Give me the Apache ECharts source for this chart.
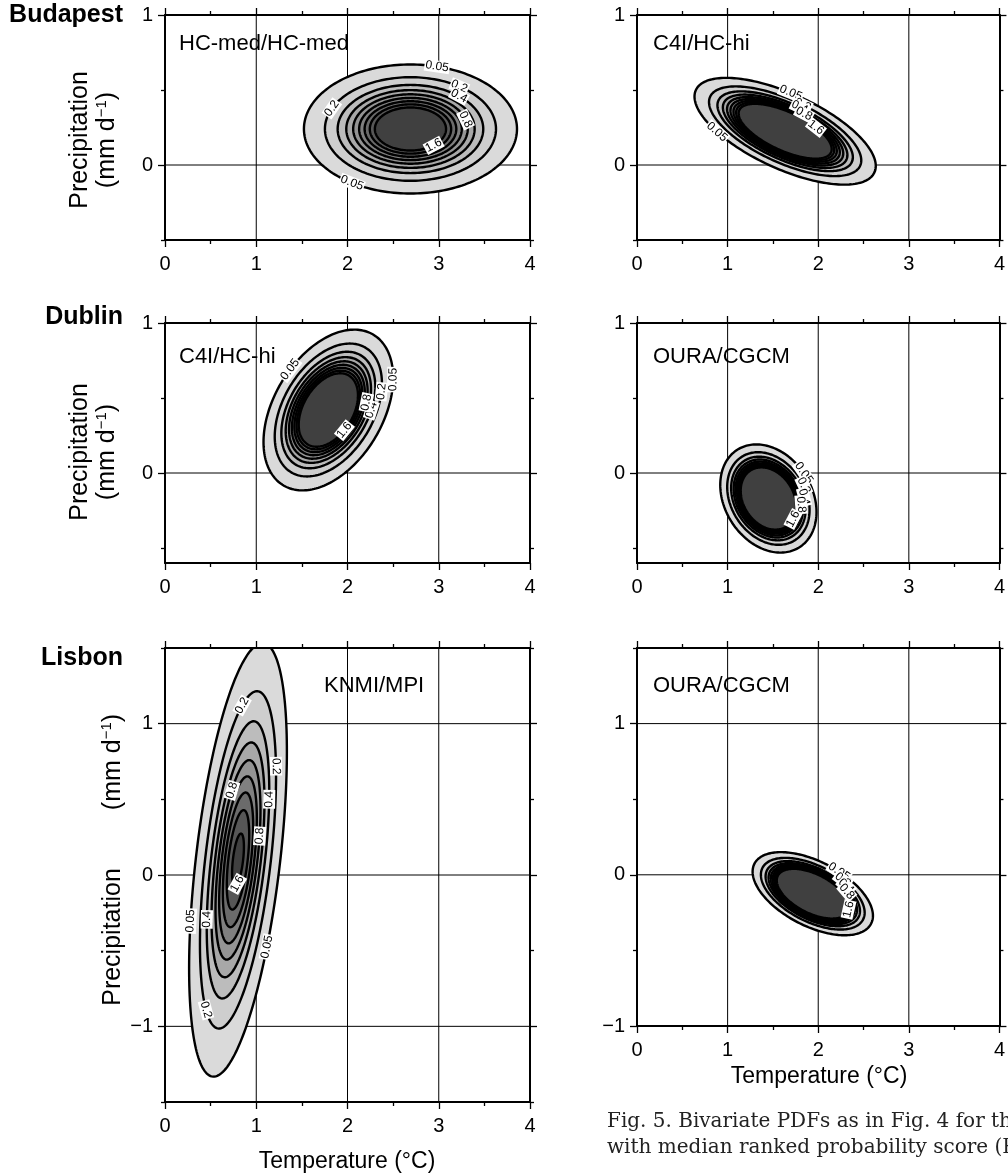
<!DOCTYPE html>
<html><head><meta charset="utf-8">
<script src="https://cdn.jsdelivr.net/npm/echarts@6/dist/echarts.min.js"></script>
<style>html,body{margin:0;padding:0;background:#fff}#chart{width:1008px;height:1175px}</style>
</head><body><div id="chart"></div>
<script>
// ---------- data ----------
const cities = ['Budapest', 'Dublin', 'Lisbon'];
const panelLabels = ['HC-med/HC-med', 'C4I/HC-hi', 'C4I/HC-hi', 'OURA/CGCM', 'KNMI/MPI', 'OURA/CGCM'];
const xTicks = [0, 1, 2, 3, 4];
const yMin = [-0.5, -0.5, -0.6, -0.6, -1.5, -1];
const yMax = [1, 1, 1, 1, 1.5, 1.5];
// bivariate normal parameters per panel (temperature, precipitation)
const meanT = [2.69, 1.635, 1.79, 1.45, 0.80, 1.94];
const meanP = [0.24, 0.225, 0.42, -0.17, 0.10, -0.125];
const sdT = [0.418, 0.326, 0.24, 0.165, 0.202, 0.202];
const sdP = [0.154, 0.116, 0.181, 0.112, 0.54, 0.0836];
const corrTP = [0, -0.65, 0.4, -0.25, 0.5, -0.53];
const levels = [0.05, 0.2, 0.4, 0.6, 0.8, 1.0, 1.2, 1.4, 1.6];
// contour label spots: [level, T, P]
const labelSpots = [
  [[0.05, 2.97, 0.64], [0.05, 2.03, -0.13], [0.2, 1.81, 0.38], [0.2, 3.2, 0.51], [0.4, 3.2, 0.45], [0.8, 3.26, 0.3], [1.6, 2.97, 0.12]],
  [[0.05, 1.70, 0.49], [0.05, 0.79, 0.22], [0.2, 1.84, 0.41], [0.4, 1.8, 0.39], [0.8, 1.86, 0.35], [1.6, 1.97, 0.25]],
  [[0.05, 1.34, 0.71], [0.05, 2.49, 0.62], [0.2, 2.36, 0.54], [0.4, 2.25, 0.42], [0.8, 2.2, 0.47], [1.6, 1.96, 0.29]],
  [[0.05, 1.84, 0.0], [0.2, 1.86, -0.08], [0.4, 1.84, -0.16], [0.8, 1.8, -0.21], [1.6, 1.69, -0.29]],
  [[0.2, 0.845, 1.12], [0.2, 1.21, 0.71], [0.8, 0.74, 0.51], [0.4, 1.15, 0.51], [0.8, 1.07, 0.28], [1.6, 0.79, -0.12], [0.05, 0.31, -0.28], [0.4, 0.47, -0.28], [0.05, 1.12, -0.48], [0.2, 0.46, -0.86]],
  [[0.05, 2.29, 0.05], [0.2, 2.32, -0.02], [0.4, 2.35, -0.07], [0.8, 2.36, -0.11], [1.6, 2.3, -0.22]]
];

// ---------- styling ----------
const SANS = '"Liberation Sans", Arial, Helvetica, sans-serif';
const levelFill = ['#dadada', '#cecece', '#bcbcbc', '#a8a8a8', '#949494', '#808080', '#6b6b6b', '#575757', '#404040'];
const gridBoxes = [
  {left: 165, top: 15, width: 365, height: 225},
  {left: 637, top: 15, width: 365, height: 225},
  {left: 165, top: 323, width: 365, height: 240},
  {left: 637, top: 323, width: 365, height: 240},
  {left: 165, top: 648, width: 365, height: 454},
  {left: 637, top: 648, width: 365, height: 378}
];

function fmtNum(v) { return v < 0 ? '\u2212' + (-v) : String(v); }
function rangeVals(lo, hi, step, offset) {
  const out = [];
  for (let v = Math.ceil((lo - offset) / step - 1e-9) * step + offset; v <= hi + 1e-9; v += step) out.push(Math.round(v * 100) / 100);
  return out;
}
function gauss(k) {
  const r = corrTP[k], s = Math.sqrt(1 - r * r);
  return {mx: meanT[k], my: meanP[k], sx: sdT[k], sy: sdP[k], r, s, peak: 1 / (2 * Math.PI * sdT[k] * sdP[k] * s)};
}
function pointAt(g, c, t) {
  return [g.mx + c * g.sx * Math.cos(t), g.my + c * g.sy * (g.r * Math.cos(t) + g.s * Math.sin(t))];
}

const grid = [], xAxis = [], yAxis = [], series = [];
gridBoxes.forEach((b, i) => {
  grid.push(Object.assign({containLabel: false, show: false}, b));
  ['bottom', 'top'].forEach(pos => {
    xAxis.push({
      gridIndex: i, type: 'value', min: xTicks[0], max: xTicks[xTicks.length - 1], interval: 1, position: pos, z: 5,
      axisLine: {show: true, onZero: false, lineStyle: {color: '#000', width: 2}},
      axisTick: {show: true, length: 7, lineStyle: {color: '#000', width: 1.3}},
      minorTick: {show: true, splitNumber: 2, length: 4, lineStyle: {color: '#000', width: 1.3}},
      axisLabel: {show: pos === 'bottom', color: '#000', fontSize: 20, fontFamily: SANS, margin: 14},
      splitLine: {show: false}
    });
  });
  const majors = rangeVals(yMin[i], yMax[i], 1, 0);
  const minors = rangeVals(yMin[i], yMax[i], 1, 0.5);
  ['left', 'right'].forEach(pos => {
    yAxis.push({
      gridIndex: i, type: 'value', min: yMin[i], max: yMax[i], position: pos, z: 5,
      axisLine: {show: true, onZero: false, lineStyle: {color: '#000', width: 2}},
      axisTick: {show: true, length: 7, customValues: majors, lineStyle: {color: '#000', width: 1.3}},
      axisLabel: {show: pos === 'left', customValues: majors, formatter: fmtNum, color: '#000', fontSize: 20, fontFamily: SANS, margin: 12},
      splitLine: {show: false}
    });
    yAxis.push({
      gridIndex: i, type: 'value', min: yMin[i], max: yMax[i], position: pos, z: 5,
      axisLine: {show: false, onZero: false},
      axisTick: {show: true, length: 4, customValues: minors, lineStyle: {color: '#000', width: 1.3}},
      axisLabel: {show: false, customValues: minors},
      splitLine: {show: false}
    });
  });
  const xi = 2 * i, yi = 4 * i;
  // grid lines at whole temperature / precipitation values: [orientation (0 vertical, 1 horizontal), value]
  const gl = xTicks.filter(v => v > xTicks[0] && v < xTicks[xTicks.length - 1]).map(v => [0, v])
    .concat(majors.filter(v => v > yMin[i] && v < yMax[i]).map(v => [1, v]));
  series.push({
    type: 'custom', xAxisIndex: xi, yAxisIndex: yi, clip: true, z: 1, silent: true,
    data: gl,
    renderItem: (params, api) => {
      const o = api.value(0), v = api.value(1);
      const a = o === 0 ? api.coord([v, yMin[i]]) : api.coord([xTicks[0], v]);
      const e = o === 0 ? api.coord([v, yMax[i]]) : api.coord([xTicks[xTicks.length - 1], v]);
      return {type: 'line', shape: {x1: a[0], y1: a[1], x2: e[0], y2: e[1]}, style: {stroke: '#000', lineWidth: 1}};
    }
  });
  // filled contours
  series.push({
    type: 'custom', xAxisIndex: xi, yAxisIndex: yi, clip: true, z: 3, silent: true,
    data: levels.map(l => [l]),
    renderItem: (params, api) => {
      const g = gauss(i), L = api.value(0);
      if (L >= g.peak) return null;
      const c = Math.sqrt(2 * Math.log(g.peak / L));
      const pts = [];
      const n = 200;
      for (let j = 0; j < n; j++) pts.push(api.coord(pointAt(g, c, 2 * Math.PI * j / n)));
      return {type: 'polygon', shape: {points: pts},
        style: {fill: levelFill[levels.indexOf(L)], stroke: '#000', lineWidth: 2.4}};
    }
  });
  // contour labels
  series.push({
    type: 'custom', xAxisIndex: xi, yAxisIndex: yi, clip: true, z: 4, silent: true,
    data: labelSpots[i],
    renderItem: (params, api) => {
      const g = gauss(i), L = api.value(0), T = api.value(1), P = api.value(2);
      if (L >= g.peak) return null;
      const c = Math.sqrt(2 * Math.log(g.peak / L));
      const u = (T - g.mx) / g.sx;
      const v = ((P - g.my) / g.sy - g.r * u) / g.s;
      const t = Math.atan2(v, u);
      const p0 = api.coord(pointAt(g, c, t));
      const p1 = api.coord(pointAt(g, c, t + 0.01));
      let ang = Math.atan2(-(p1[1] - p0[1]), p1[0] - p0[0]);
      if (ang > Math.PI / 2) ang -= Math.PI;
      if (ang < -Math.PI / 2) ang += Math.PI;
      return {type: 'text', x: p0[0], y: p0[1], rotation: ang,
        style: {text: String(L), align: 'center', verticalAlign: 'middle', font: '12px ' + SANS,
          fill: '#000', backgroundColor: '#fff', padding: [0, 1]}};
    }
  });
});

// ---------- texts ----------
const graphic = [];
const cityY = [15, 317, 658];
cities.forEach((c, k) => graphic.push({type: 'text', z: 20, x: 123, y: cityY[k],
  style: {text: c, align: 'right', verticalAlign: 'middle', font: 'bold 25px ' + SANS, fill: '#000'}}));
const plPos = [[179, 44], [653, 44], [179, 357], [653, 357], [324, 686], [653, 686]];
panelLabels.forEach((t, k) => graphic.push({type: 'text', z: 20, x: plPos[k][0], y: plPos[k][1],
  style: {text: t, align: 'left', verticalAlign: 'middle', font: '22px ' + SANS, fill: '#000'}}));
const richY = {n: {fontSize: 25, fontFamily: SANS, fill: '#000', lineHeight: 27}, s: {fontSize: 15, fontFamily: SANS, fill: '#000', verticalAlign: 'top', lineHeight: 27}};
[[94, 140], [94, 452]].forEach(p => graphic.push({type: 'text', z: 20, x: p[0], y: p[1], rotation: Math.PI / 2,
  style: {text: '{n|Precipitation}\n{n|(mm d}{s|\u22121}{n|)}', rich: richY, align: 'center', verticalAlign: 'middle'}}));
graphic.push({type: 'text', z: 20, x: 113, y: 937, rotation: Math.PI / 2,
  style: {text: '{n|Precipitation}', rich: richY, align: 'center', verticalAlign: 'middle'}});
graphic.push({type: 'text', z: 20, x: 113, y: 762, rotation: Math.PI / 2,
  style: {text: '{n|(mm d}{s|\u22121}{n|)}', rich: richY, align: 'center', verticalAlign: 'middle'}});
[[347, 1162], [819, 1077]].forEach(p => graphic.push({type: 'text', z: 20, x: p[0], y: p[1],
  style: {text: 'Temperature (\u00B0C)', align: 'center', verticalAlign: 'middle', font: '23px ' + SANS, fill: '#000'}}));
graphic.push({type: 'text', z: 20, x: 607, y: 1122,
  style: {text: 'Fig. 5. Bivariate PDFs as in Fig. 4 for the', align: 'left', verticalAlign: 'middle', font: '20px "DejaVu Serif", serif', fill: '#222'}});
graphic.push({type: 'text', z: 20, x: 607, y: 1148,
  style: {text: 'with median ranked probability score (RPS)', align: 'left', verticalAlign: 'middle', font: '20px "DejaVu Serif", serif', fill: '#222'}});

const chart = echarts.init(document.getElementById('chart'), null, {renderer: 'canvas'});
chart.setOption({animation: false, backgroundColor: '#fff', grid, xAxis, yAxis, series, graphic});
</script></body></html>
